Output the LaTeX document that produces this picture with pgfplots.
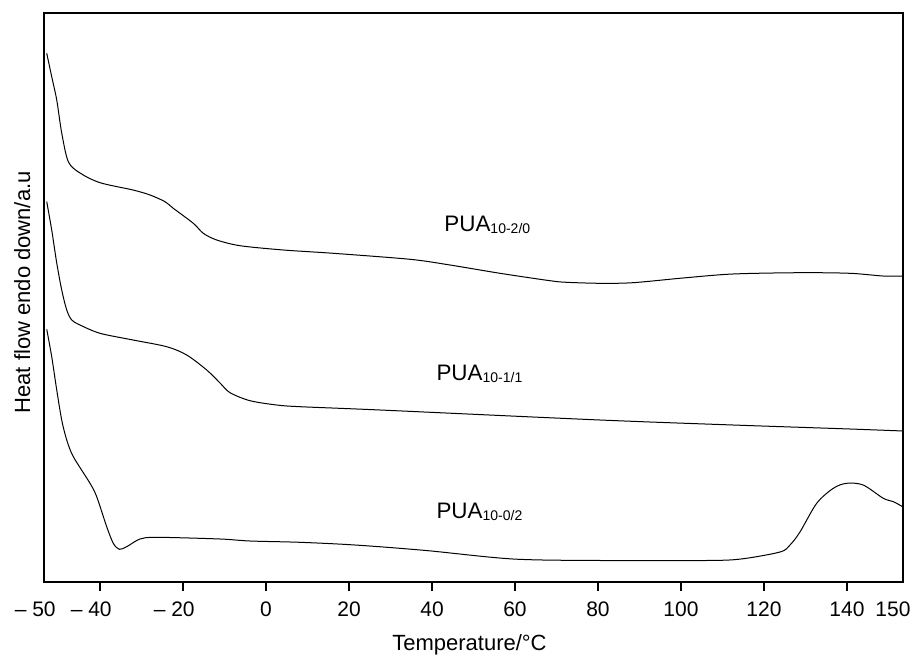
\documentclass[border=0pt]{standalone}
\usepackage{fontspec}
\setmainfont{Liberation Sans}
\usepackage{pgfplots}
\pgfplotsset{compat=1.18}

\begin{document}
\begin{tikzpicture}
\begin{axis}[
  scale only axis, width=429.5pt, height=284.5pt,
  xmin=-53.5, xmax=153.5, ymin=0, ymax=569,
  axis line style={line width=0.65pt},
  ytick=\empty,
  xtick={-40,-20,0,20,40,60,80,100,120,140},
  xticklabels={\llap{– }40,\llap{– }20,0,20,40,60,80,100,120,140},
  extra x ticks={-53.5,153.5},
  extra x tick labels={\llap{– }50,\makebox[0pt]{150\kern10pt}},
  extra x tick style={major tick style={draw=none}},
  xtick pos=bottom, tick align=outside, major tick length=4.5pt,
  tick style={line width=0.65pt, black},
  xticklabel style={font=\fontsize{10.5}{12}\selectfont, yshift=-2pt},
  label style={font=\fontsize{11}{13}\selectfont},
  xlabel={Temperature/°C},
  xlabel style={at={(axis description cs:0.4953,0)}, anchor=base, yshift=-34pt},
  ylabel={Heat flow endo down/a.u},
  ylabel style={at={(axis description cs:-0.0163,0.509)}, anchor=base},
]
% PUA 10-2/0
\addplot[black, line width=0.5pt, no markers, smooth, tension=0.5] coordinates {
(-52.84,528.7)(-51.64,505.3)(-50.43,482)(-49.23,449)(-47.64,420.3)(-44.82,409)
(-40.0,399.3)(-32.05,392)(-27.95,387)(-24.34,380.3)(-22.34,373.7)(-17.52,358.7)
(-15.11,348.7)(-11.88,342)(-6.27,336.3)(4.17,332)(16.22,328.7)(34.7,322.7)
(44.34,317)(56.39,308.7)(68.43,301.3)(72.46,299.7)(80.48,298.7)(88.43,299.3)
(100.48,304)(112.53,308)(128.67,309.3)(140.72,308.7)(148.67,306)(153.49,306)};
% PUA 10-1/1
\addplot[black, line width=0.5pt, no markers, smooth, tension=0.5] coordinates {
(-52.84,380.3)(-51.64,352)(-50.43,319)(-49.23,292)(-48.02,272)(-46.82,262)
(-44.82,257)(-40.0,248.7)(-32.05,242)(-23.93,235.3)(-19.11,227)(-14.29,212)
(-11.08,199)(-8.67,189.3)(-3.86,181.3)(2.58,177)(8.19,175.3)(27.47,172)
(80.48,162)(112.53,157)(140.72,153)(153.49,151)};
% PUA 10-0/2
\addplot[black, line width=0.5pt, no markers, smooth, tension=0.5] coordinates {
(-52.84,252.7)(-51.64,225.3)(-50.43,192)(-49.23,162)(-48.02,142)(-46.43,125.3)
(-42.41,98.7)(-40.80,85.3)(-38.39,55.3)(-36.80,38.7)(-35.35,32.7)(-33.57,35.3)
(-30.36,43)(-26.34,44.7)(-11.08,43)(-3.86,41)(8.19,39.7)
(21.45,37)(38.31,31.6)(59.52,23)(80.72,21.5)(106.02,21.5)(114.46,23)
(123.86,30)(126.27,37)(128.67,50)(132.7,78.7)(136.7,93.7)(139.9,98.7)
(143.9,97)(148.75,83.7)(151.2,80.3)(153.4,75.3)};
\node[anchor=base west, inner sep=0, font=\fontsize{11.2}{13}\selectfont]
  at (axis cs:42.9,350.3) {PUA\raisebox{-1pt}{\fontsize{7}{8}\selectfont 10-2/0}};
\node[anchor=base west, inner sep=0, font=\fontsize{11.2}{13}\selectfont]
  at (axis cs:41.0,201.3) {PUA\raisebox{-1pt}{\fontsize{7}{8}\selectfont 10-1/1}};
\node[anchor=base west, inner sep=0, font=\fontsize{11.2}{13}\selectfont]
  at (axis cs:41.0,64) {PUA\raisebox{-1pt}{\fontsize{7}{8}\selectfont 10-0/2}};
\end{axis}
\pgfresetboundingbox
\path ([xshift=-22pt,yshift=-36.2pt]current axis.south west)
  rectangle ([xshift=6pt,yshift=6.5pt]current axis.north east);
\end{tikzpicture}
\end{document}
